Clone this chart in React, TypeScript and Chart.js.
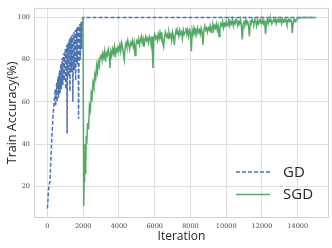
import React, { useEffect, useRef } from "react";
import { Chart, registerables } from "chart.js";

Chart.register(...registerables);

const xTicks = [0, 2000, 4000, 6000, 8000, 10000, 12000, 14000];
const yTicks = [20, 40, 60, 80, 100];

const gdIter = [
  0, 20, 40, 60, 80, 100, 120, 140, 160, 180, 200, 220, 240, 260, 280, 300, 320, 340, 360, 380,
  400, 420, 440, 460, 480, 500, 520, 540, 560, 580, 600, 620, 640, 660, 680, 700, 720, 740, 760, 780,
  800, 820, 840, 860, 880, 900, 920, 940, 960, 980, 1000, 1020, 1040, 1060, 1080, 1100, 1120, 1140, 1160, 1180,
  1200, 1220, 1240, 1260, 1280, 1300, 1320, 1340, 1360, 1380, 1400, 1420, 1440, 1460, 1480, 1500, 1520, 1540, 1560, 1580,
  1600, 1620, 1640, 1660, 1680, 1700, 1720, 1740, 1760, 1780, 1800, 1820, 1840, 1860, 1880, 1900, 1920, 1940, 1960, 1980,
  2000, 15000,
];
const gdAcc = [
  9.5, 12, 15, 18, 20, 21, 21.5, 22, 26, 30, 34, 38, 42, 45, 48, 51, 54, 56, 58, 60,
  62, 64, 66, 58, 63, 67, 69, 60, 65, 70, 72, 62, 68, 73, 75, 64, 70, 76, 78, 66,
  73, 79, 81, 68, 76, 82, 83, 70, 78, 84, 85, 66, 76, 84, 87, 45, 70, 82, 88, 72,
  83, 89, 90, 65, 80, 88, 91, 74, 85, 91, 92, 60, 78, 88, 93, 75, 86, 93, 94, 70,
  84, 92, 95, 78, 88, 94, 96, 52, 75, 88, 95, 97, 80, 91, 96, 98, 85, 95, 99, 100,
  100, 100,
];

const sgdEarlyIter = [1990, 2030, 2060, 2080, 2110, 2140, 2170, 2200, 2250, 2300, 2350, 2400, 2450, 2500, 2550, 2600, 2650, 2700, 2750, 2800, 2850, 2900, 2950];
const sgdEarlyAcc = [100, 10.7, 30, 22, 40, 26, 44, 40, 50, 47, 58, 56, 64, 62, 69, 67, 73, 71, 77, 74, 79, 77, 81];

// SGD accuracy sampled every 50 iterations from 3000 to 15000
const sgdLateStart = 3000;
const sgdLateStep = 50;
const sgdLateAcc = [
  82, 80, 83, 81, 84, 79, 83, 82, 85, 83, 76, 84, 82, 85, 83, 86, 81, 85, 84, 86,
  85, 87, 84, 88, 86, 83, 80, 86, 88, 86, 89, 87, 85, 88, 87, 89, 86, 88, 82, 87,
  89, 88, 90, 87, 89, 91, 88, 90, 86, 89, 91, 89, 90, 88, 91, 90, 87, 91, 76, 90,
  92, 90, 91, 89, 92, 90, 93, 91, 92, 88, 86, 91, 93, 91, 92, 90, 93, 91, 92, 89,
  93, 91, 87, 92, 94, 92, 93, 91, 94, 92, 93, 90, 94, 92, 93, 95, 92, 94, 91, 94,
  93, 84, 94, 92, 95, 93, 94, 92, 95, 93, 94, 92, 95, 93, 87, 94, 96, 94, 95, 93,
  95, 94, 96, 93, 95, 97, 94, 96, 95, 97, 94, 96, 91, 95, 97, 96, 98, 95, 97, 96,
  98, 96, 97, 99, 96, 98, 97, 99, 96, 98, 97, 99, 98, 96, 98, 97, 99, 96, 89.5, 97,
  98, 97, 99, 97, 98, 96, 91, 98, 97, 99, 98, 97, 99, 98, 96, 99, 97, 98, 99, 97,
  98, 99, 97, 98, 92, 98, 99, 97, 99, 98, 99, 97, 98, 99, 98, 99, 97, 99, 98, 99,
  98, 99, 97, 99, 98, 99, 98, 99, 97, 98, 99, 98, 99, 98, 92.7, 98, 99, 98, 99, 99,
  99.5, 99.8, 100, 99.7, 100, 100, 99.9, 100, 100, 100, 100, 100, 100, 100, 100, 100, 100, 100, 100, 100,
  100,
];

const GD_COLOR = "#4C72B0";
const SGD_COLOR = "#55A868";

export default function App() {
  const ref = useRef<HTMLCanvasElement | null>(null);

  useEffect(() => {
    document.body.style.margin = "0";
    const canvas = ref.current!;
    const gdData = gdIter.map((x, i) => ({ x, y: gdAcc[i] }));
    const sgdData = [
      ...sgdEarlyIter.map((x, i) => ({ x, y: sgdEarlyAcc[i] })),
      ...sgdLateAcc.map((y, i) => ({ x: sgdLateStart + i * sgdLateStep, y })),
    ];

    const framePlugin = {
      id: "frame",
      beforeDatasetsDraw(chart: any) {
        const { ctx, chartArea: a } = chart;
        ctx.save();
        ctx.strokeStyle = "#d2d2d2";
        ctx.lineWidth = 1;
        ctx.strokeRect(a.left + 0.5, a.top + 0.5, a.right - a.left - 1, a.bottom - a.top - 1);
        ctx.restore();
      },
      afterDraw(chart: any) {
        const { ctx, chartArea: a } = chart;
        const items = [
          { label: "GD", color: GD_COLOR, dash: [4, 2], y: a.bottom - 46 },
          { label: "SGD", color: SGD_COLOR, dash: [], y: a.bottom - 23.5 },
        ];
        const x0 = a.right - 93;
        ctx.save();
        for (const it of items) {
          ctx.strokeStyle = it.color;
          ctx.lineWidth = 1.5;
          ctx.setLineDash(it.dash);
          ctx.beginPath();
          ctx.moveTo(x0, it.y);
          ctx.lineTo(x0 + 34, it.y);
          ctx.stroke();
          ctx.setLineDash([]);
          ctx.fillStyle = "#262626";
          ctx.font = "15px 'Open Sans'";
          ctx.textBaseline = "middle";
          ctx.textAlign = "left";
          ctx.fillText(it.label, x0 + 47, it.y + 0.5);
        }
        ctx.restore();
      },
    };

    const chart = new Chart(canvas, {
      type: "line",
      data: {
        datasets: [
          {
            label: "GD",
            data: gdData,
            borderColor: GD_COLOR,
            borderWidth: 1.5,
            borderDash: [4, 2],
            pointRadius: 0,
            tension: 0,
            order: 1,
          },
          {
            label: "SGD",
            data: sgdData,
            borderColor: SGD_COLOR,
            borderWidth: 1.5,
            pointRadius: 0,
            tension: 0,
            order: 0,
          },
        ],
      },
      options: {
        animation: false,
        responsive: false,
        events: [],
        layout: { padding: { top: 4, right: 3, left: 0, bottom: 0 } },
        plugins: { legend: { display: false }, tooltip: { enabled: false } },
        scales: {
          x: {
            type: "linear",
            min: -750,
            max: 15750,
            afterBuildTicks: (s: any) => {
              s.ticks = xTicks.map((v) => ({ value: v }));
            },
            afterFit: (s: any) => {
              s.height = 30;
            },
            grid: { color: "#dedede", lineWidth: 1, drawTicks: false },
            border: { display: false },
            ticks: {
              padding: 4,
              maxRotation: 0,
              autoSkip: false,
              color: "#444",
              font: { family: "'DejaVu Serif'", size: 6.5 },
              callback: (v: any) => String(v),
            },
            title: {
              display: true,
              text: "Iteration",
              color: "#262626",
              font: { family: "'Open Sans'", size: 12 },
              padding: { top: 0, bottom: 4 },
            },
          },
          y: {
            type: "linear",
            min: 5,
            max: 104.5,
            afterBuildTicks: (s: any) => {
              s.ticks = yTicks.map((v) => ({ value: v }));
            },
            afterFit: (s: any) => {
              s.width = 34;
            },
            grid: { color: "#dedede", lineWidth: 1, drawTicks: false },
            border: { display: false },
            ticks: {
              padding: 4,
              color: "#444",
              font: { family: "'DejaVu Serif'", size: 6.5 },
              callback: (v: any) => String(v),
            },
            title: {
              display: true,
              text: "Train Accuracy(%)",
              color: "#262626",
              font: { family: "'Open Sans'", size: 12.5 },
              padding: { top: 5, bottom: 0 },
            },
          },
        },
      },
      plugins: [framePlugin],
    });
    return () => chart.destroy();
  }, []);

  return (
    <canvas
      ref={ref}
      width={332}
      height={248}
      style={{ display: "block", width: 332, height: 248 }}
    />
  );
}
